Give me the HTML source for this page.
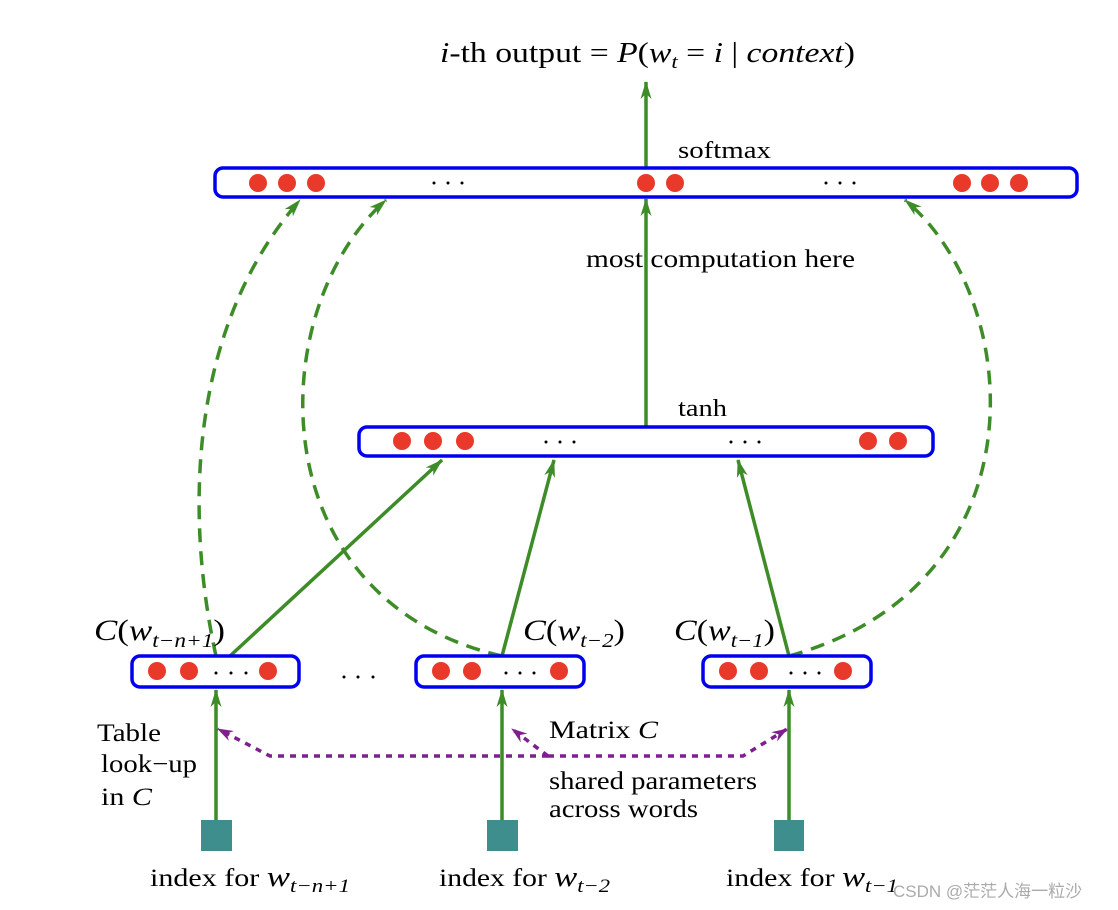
<!DOCTYPE html>
<html><head><meta charset="utf-8"><style>
html,body{margin:0;padding:0;background:#fff;}
svg{display:block;}
text{font-family:"Liberation Serif",serif;fill:#000;}
.it{font-style:italic;}
</style></head><body>
<svg width="1118" height="910" viewBox="0 0 1118 910" xmlns="http://www.w3.org/2000/svg">
<defs>
<marker id="agl" markerWidth="18" markerHeight="14" refX="17" refY="7" orient="auto" markerUnits="userSpaceOnUse">
<path d="M0,1.5 L18,7 L0,12.5 L5,7 Z" fill="#3d8c28"/>
</marker>
<marker id="ap" markerWidth="16" markerHeight="12" refX="15" refY="6" orient="auto" markerUnits="userSpaceOnUse">
<path d="M0,0.5 L16,6 L0,11.5 L5,6 Z" fill="#7f1f8f"/>
</marker>
</defs>

<text x="440" y="62" font-size="28" textLength="415" lengthAdjust="spacingAndGlyphs"><tspan class="it">i</tspan>-th output = <tspan class="it">P</tspan>(<tspan class="it">w</tspan><tspan class="it" font-size="19" dy="6">t</tspan><tspan dy="-6">  =  </tspan><tspan class="it">i</tspan> | <tspan class="it">context</tspan>)</text>

<g stroke="#3d8c28" stroke-width="3.5" fill="none">
<line x1="646" y1="168" x2="646" y2="82" marker-end="url(#agl)"/>
<line x1="646" y1="427" x2="646" y2="199" marker-end="url(#agl)"/>
<line x1="216" y1="820" x2="216" y2="690" marker-end="url(#agl)"/>
<line x1="502" y1="820" x2="502" y2="690" marker-end="url(#agl)"/>
<line x1="789" y1="820" x2="789" y2="690" marker-end="url(#agl)"/>
<line x1="230" y1="656" x2="442" y2="460" marker-end="url(#agl)"/>
<line x1="502" y1="656" x2="554" y2="460" marker-end="url(#agl)"/>
<line x1="789" y1="656" x2="738" y2="460" marker-end="url(#agl)"/>
</g>
<g stroke="#3d8c28" stroke-width="3.5" fill="none" stroke-dasharray="14,9">
<path d="M216,656 C186,520 186,330 300,200" marker-end="url(#agl)"/>
<path d="M502,656 C258,600 262,310 386,200" marker-end="url(#agl)"/>
<path d="M789,656 C1045,585 1025,300 905,200" marker-end="url(#agl)"/>
</g>

<g stroke="#7f1f8f" stroke-width="3.5" fill="none" stroke-dasharray="6,6">
<polyline points="548,756 270,756 218,729" marker-end="url(#ap)"/>
<polyline points="548,756 512,729" marker-end="url(#ap)"/>
<polyline points="548,756 743,756 787,729" marker-end="url(#ap)"/>
</g>

<g fill="#fff" stroke="#0000ee" stroke-width="3.5">
<rect x="215" y="168" width="862" height="29" rx="8"/>
<rect x="359" y="427" width="574" height="29" rx="8"/>
<rect x="132" y="656" width="167" height="31" rx="8"/>
<rect x="416" y="656" width="168" height="31" rx="8"/>
<rect x="703" y="656" width="168" height="31" rx="8"/>
</g>
<g fill="#e8392a">
<circle cx="258" cy="183" r="9"/><circle cx="287" cy="183" r="9"/><circle cx="316" cy="183" r="9"/>
<circle cx="646" cy="183" r="9"/><circle cx="675" cy="183" r="9"/>
<circle cx="962" cy="183" r="9"/><circle cx="990" cy="183" r="9"/><circle cx="1019" cy="183" r="9"/>
<circle cx="402" cy="441" r="9"/><circle cx="433" cy="441" r="9"/><circle cx="465" cy="441" r="9"/>
<circle cx="868" cy="441" r="9"/><circle cx="898" cy="441" r="9"/>
<circle cx="157" cy="671" r="9"/><circle cx="189" cy="671" r="9"/><circle cx="268" cy="671" r="9"/>
<circle cx="441" cy="671" r="9"/><circle cx="472" cy="671" r="9"/><circle cx="559" cy="671" r="9"/>
<circle cx="728" cy="671" r="9"/><circle cx="759" cy="671" r="9"/><circle cx="843" cy="671" r="9"/>
</g>
<g fill="#000">
<circle cx="434" cy="183" r="1.5"/><circle cx="448" cy="183" r="1.5"/><circle cx="462" cy="183" r="1.5"/>
<circle cx="826" cy="183" r="1.5"/><circle cx="840" cy="183" r="1.5"/><circle cx="854" cy="183" r="1.5"/>
<circle cx="546" cy="442" r="1.5"/><circle cx="560" cy="442" r="1.5"/><circle cx="574" cy="442" r="1.5"/>
<circle cx="731" cy="442" r="1.5"/><circle cx="745" cy="442" r="1.5"/><circle cx="759" cy="442" r="1.5"/>
<circle cx="216" cy="673" r="1.5"/><circle cx="231" cy="673" r="1.5"/><circle cx="246" cy="673" r="1.5"/>
<circle cx="506" cy="673" r="1.5"/><circle cx="520" cy="673" r="1.5"/><circle cx="534" cy="673" r="1.5"/>
<circle cx="791" cy="673" r="1.5"/><circle cx="805" cy="673" r="1.5"/><circle cx="819" cy="673" r="1.5"/>
<circle cx="344" cy="677" r="1.5"/><circle cx="358" cy="677" r="1.5"/><circle cx="373" cy="677" r="1.5"/>
</g>

<g fill="#3e8e8e">
<rect x="201" y="820" width="31" height="31"/>
<rect x="487" y="820" width="31" height="31"/>
<rect x="774" y="820" width="30" height="31"/>
</g>

<text x="678" y="158" font-size="24" textLength="93" lengthAdjust="spacingAndGlyphs">softmax</text>
<text x="586" y="267" font-size="25" textLength="269" lengthAdjust="spacingAndGlyphs">most  computation here</text>
<text x="678" y="416" font-size="24" textLength="49" lengthAdjust="spacingAndGlyphs">tanh</text>

<text x="94" y="640" font-size="30" textLength="131" lengthAdjust="spacingAndGlyphs"><tspan class="it">C</tspan>(<tspan class="it">w</tspan><tspan class="it" font-size="20" dy="7">t−n+1</tspan><tspan dy="-7">)</tspan></text>
<text x="523" y="640" font-size="30" textLength="102" lengthAdjust="spacingAndGlyphs"><tspan class="it">C</tspan>(<tspan class="it">w</tspan><tspan class="it" font-size="20" dy="7">t−2</tspan><tspan dy="-7">)</tspan></text>
<text x="674" y="640" font-size="30" textLength="101" lengthAdjust="spacingAndGlyphs"><tspan class="it">C</tspan>(<tspan class="it">w</tspan><tspan class="it" font-size="20" dy="7">t−1</tspan><tspan dy="-7">)</tspan></text>

<text x="97" y="741" font-size="25" textLength="64" lengthAdjust="spacingAndGlyphs">Table</text>
<text x="101" y="772" font-size="25" textLength="96" lengthAdjust="spacingAndGlyphs">look−up</text>
<text x="101" y="805" font-size="25" textLength="51" lengthAdjust="spacingAndGlyphs">in <tspan class="it">C</tspan></text>

<text x="549" y="738" font-size="25" textLength="109" lengthAdjust="spacingAndGlyphs">Matrix <tspan class="it">C</tspan></text>
<text x="549" y="789" font-size="25" textLength="208" lengthAdjust="spacingAndGlyphs">shared parameters</text>
<text x="549" y="817" font-size="25" textLength="149" lengthAdjust="spacingAndGlyphs">across words</text>

<text x="150" y="886" font-size="25" textLength="200" lengthAdjust="spacingAndGlyphs">index for <tspan class="it" font-size="29">w</tspan><tspan class="it" font-size="19" dy="6">t−n+1</tspan></text>
<text x="439" y="886" font-size="25" textLength="171" lengthAdjust="spacingAndGlyphs">index for <tspan class="it" font-size="29">w</tspan><tspan class="it" font-size="19" dy="6">t−2</tspan></text>
<text x="726" y="886" font-size="25" textLength="172" lengthAdjust="spacingAndGlyphs">index for <tspan class="it" font-size="29">w</tspan><tspan class="it" font-size="19" dy="6">t−1</tspan></text>

<text x="893" y="897" font-size="17" style="fill:#aaa;font-family:'Liberation Sans','Noto Sans CJK SC',sans-serif">CSDN @茫茫人海一粒沙</text>
</svg>
</body></html>
